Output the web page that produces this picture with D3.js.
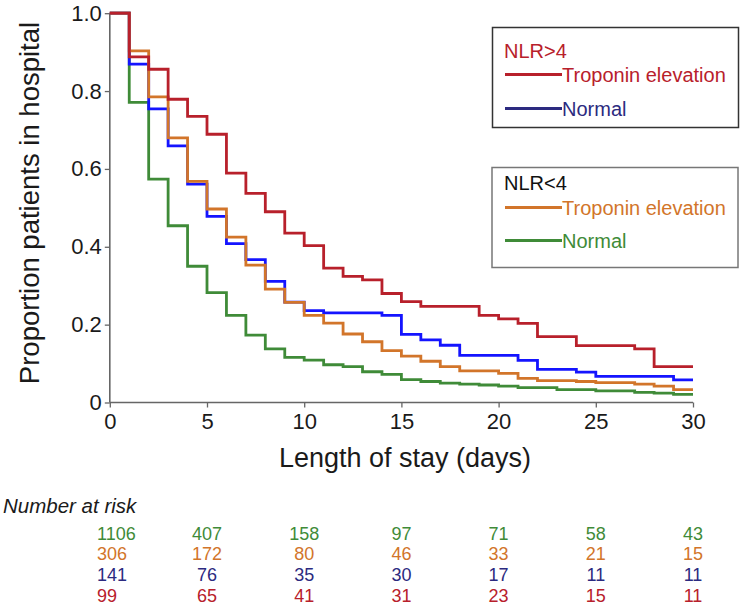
<!DOCTYPE html>
<html>
<head>
<meta charset="utf-8">
<script src="https://cdn.jsdelivr.net/npm/d3@7"></script>
<style>
  html, body { margin: 0; padding: 0; background: #fff; }
  svg { display: block; font-family: "Liberation Sans", Arial, sans-serif; }
</style>
</head>
<body>
<svg id="chart" width="742" height="605"></svg>
<script>
// ---- Data ----
const days = d3.range(0, 31); // 0..30
const nlrHighTroponin = [1.0, 0.888, 0.856, 0.779, 0.735, 0.689, 0.589, 0.537, 0.490, 0.435,
  0.403, 0.345, 0.324, 0.315, 0.280, 0.259, 0.247, 0.247, 0.247, 0.224,
  0.215, 0.203, 0.169, 0.169, 0.146, 0.146, 0.146, 0.138, 0.092, 0.092];
const nlrHighNormal = [1.0, 0.869, 0.754, 0.659, 0.561, 0.478, 0.408, 0.367, 0.311, 0.258,
  0.236, 0.230, 0.230, 0.230, 0.224, 0.175, 0.161, 0.147, 0.121, 0.121,
  0.121, 0.108, 0.085, 0.085, 0.078, 0.067, 0.067, 0.067, 0.067, 0.058];
const nlrLowTroponin = [1.0, 0.903, 0.785, 0.680, 0.568, 0.497, 0.425, 0.353, 0.291, 0.257,
  0.224, 0.204, 0.176, 0.156, 0.133, 0.119, 0.106, 0.092, 0.081, 0.081,
  0.075, 0.062, 0.056, 0.056, 0.054, 0.051, 0.051, 0.047, 0.042, 0.033];
const nlrLowNormal = [1.0, 0.771, 0.574, 0.454, 0.350, 0.282, 0.224, 0.173, 0.138, 0.116,
  0.109, 0.097, 0.092, 0.079, 0.072, 0.059, 0.054, 0.050, 0.047, 0.045,
  0.042, 0.038, 0.038, 0.033, 0.033, 0.030, 0.030, 0.026, 0.024, 0.021];

const xTicks = [0, 5, 10, 15, 20, 25, 30];
const yTicks = [0, 0.2, 0.4, 0.6, 0.8, 1.0];
const riskTimes = [0, 5, 10, 15, 20, 25, 30];
const riskLowNormal = [1106, 407, 158, 97, 71, 58, 43];
const riskLowTroponin = [306, 172, 80, 46, 33, 21, 15];
const riskHighNormal = [141, 76, 35, 30, 17, 11, 11];
const riskHighTroponin = [99, 65, 41, 31, 23, 15, 11];

// ---- Styles ----
const C = {
  red: "#b8202b",
  blue: "#1414ff",
  navy: "#2c2a80",
  orange: "#d2752a",
  green: "#3f8b38",
  axis: "#666",
  text: "#1a1a1a"
};

const svg = d3.select("#chart");
const x = d3.scaleLinear().domain([0, 30]).range([109.8, 693]);
const y = d3.scaleLinear().domain([0, 1]).range([402.5, 13.2]);

// ---- Axes ----
const yAxis = d3.axisLeft(y).tickValues(yTicks).tickSize(5).tickPadding(3)
  .tickFormat(d => d === 0 ? "0" : d3.format(".1f")(d));
const gy = svg.append("g").attr("transform", `translate(${x(0)},0)`).call(yAxis);
const xAxis = d3.axisBottom(x).tickValues(xTicks).tickSize(5).tickPadding(6);
const gx = svg.append("g").attr("transform", `translate(0,${y(0)})`).call(xAxis);
[gx, gy].forEach(g => {
  g.select(".domain").attr("stroke", C.axis).attr("stroke-width", 1.6);
  g.selectAll(".tick line").attr("stroke", C.axis).attr("stroke-width", 1.3);
  g.selectAll(".tick text").attr("fill", C.text).attr("font-size", 22)
    .attr("font-family", "Liberation Sans, Arial, sans-serif");
});
gy.select(".domain").attr("d", `M0,${y(1)}V${y(0)}`);
gx.select(".domain").attr("d", `M${x(0)},0H${x(30)}`);

svg.append("text").attr("x", 405).attr("y", 467).attr("text-anchor", "middle")
  .attr("font-size", 27).attr("fill", C.text).text("Length of stay (days)");
svg.append("text").attr("transform", "translate(39,203) rotate(-90)")
  .attr("text-anchor", "middle").attr("font-size", 27.5).attr("fill", C.text)
  .text("Proportion patients in hospital");

// ---- Curves ----
const line = d3.line().x(d => x(d[0])).y(d => y(d[1])).curve(d3.curveStepAfter);
const series = [
  { vals: nlrLowNormal, color: C.green },
  { vals: nlrHighNormal, color: C.blue },
  { vals: nlrLowTroponin, color: C.orange },
  { vals: nlrHighTroponin, color: C.red }
];
series.forEach(s => {
  const pts = days.map(d => [d, s.vals[Math.min(d, s.vals.length - 1)]]);
  svg.append("path").attr("d", line(pts)).attr("fill", "none")
    .attr("stroke", s.color).attr("stroke-width", 2.8);
});

// ---- Legends ----
function legend(box, title, titleColor, items) {
  svg.append("rect").attr("x", box.x).attr("y", box.y).attr("width", box.w).attr("height", box.h)
    .attr("fill", "#fff").attr("stroke", box.stroke).attr("stroke-width", 1.5);
  svg.append("text").attr("x", 504).attr("y", box.y + box.titleOff).attr("font-size", 20)
    .attr("fill", titleColor).text(title);
  items.forEach((it, i) => {
    const ly = box.y + box.lineOff + i * box.gap;
    svg.append("line").attr("x1", 505).attr("x2", 562).attr("y1", ly).attr("y2", ly)
      .attr("stroke", it.line).attr("stroke-width", 3);
    svg.append("text").attr("x", 562).attr("y", ly + 7).attr("font-size", 20)
      .attr("fill", it.text).text(it.label);
  });
}
legend({ x: 492.5, y: 27.5, w: 246, h: 100, stroke: "#333", titleOff: 30, lineOff: 47, gap: 34 },
  "NLR>4", C.red,
  [{ label: "Troponin elevation", line: C.red, text: C.red },
   { label: "Normal", line: C.navy, text: C.navy }]);
legend({ x: 492, y: 167.5, w: 246, h: 100, stroke: "#777", titleOff: 22.5, lineOff: 40, gap: 33 },
  "NLR<4", "#111",
  [{ label: "Troponin elevation", line: C.orange, text: C.orange },
   { label: "Normal", line: C.green, text: C.green }]);

// ---- Number at risk ----
svg.append("text").attr("x", 3).attr("y", 513).attr("font-size", 20.5)
  .attr("font-style", "italic").attr("fill", C.text).text("Number at risk");
const riskRows = [
  { vals: riskLowNormal, color: C.green },
  { vals: riskLowTroponin, color: C.orange },
  { vals: riskHighNormal, color: C.navy },
  { vals: riskHighTroponin, color: C.red }
];
riskRows.forEach((r, i) => {
  const by = 539.5 + i * 20.8;
  r.vals.forEach((v, j) => {
    svg.append("text")
      .attr("x", j === 0 ? 97 : x(riskTimes[j]))
      .attr("y", by)
      .attr("text-anchor", j === 0 ? "start" : "middle")
      .attr("font-size", 18).attr("fill", r.color).text(v);
  });
});
</script>
</body>
</html>
